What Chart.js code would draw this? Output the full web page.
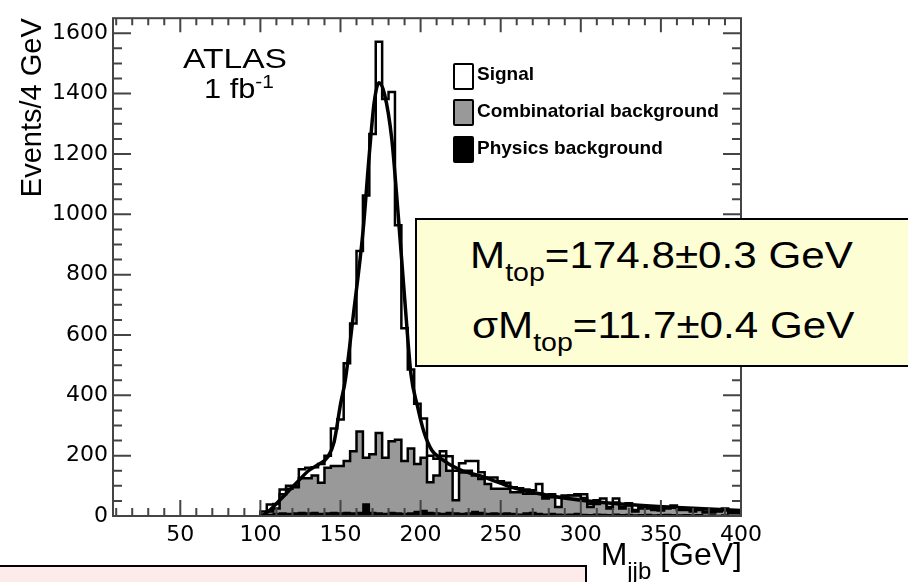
<!DOCTYPE html>
<html>
<head>
<meta charset="utf-8">
<title>M_jjb ATLAS 1 fb-1</title>
<script src="https://cdn.jsdelivr.net/npm/chart.js"></script>
<style>
body { margin: 0; background: #fff; }
#wrap { position: relative; width: 908px; height: 582px; overflow: hidden; background: #fff;
        font-family: "Liberation Sans", Arial, sans-serif; color: #000; }
#c { position: absolute; left: 0; top: 0; }
.lbl { position: absolute; white-space: nowrap; transform-origin: 0 0; }
.lbl span { line-height: 0; position: relative; }
.key { position: absolute; left: 453px; width: 17px; height: 23px; border: 2px solid #000; border-radius: 2px; }
.leg { position: absolute; left: 477px; font-weight: bold; font-size: 19px; line-height: 19px; white-space: nowrap; }
#fitbox { position: absolute; left: 415px; top: 218px; width: 540px; height: 145px; border: 2px solid #000; background: #fefed4; }
#note { position: absolute; left: -2px; top: 565px; width: 585px; height: 30px; border: 2px solid #000; background: #fdebeb; }
</style>
</head>
<body>
<div id="wrap">
  <canvas id="c" width="908" height="582"></canvas>

  <div class="lbl" style="left:183px;top:45px;font-size:28px;line-height:28px;transform:scaleX(1.2)">ATLAS</div>
  <div class="lbl" style="left:204px;top:75px;font-size:28px;line-height:28px;transform:scaleX(1.1)">1 fb<span style="font-size:19px;top:-10px">-1</span></div>

  <div class="key" style="top:63px;background:#fff"></div>
  <div class="key" style="top:99px;background:#999"></div>
  <div class="key" style="top:136px;background:#000"></div>
  <div class="leg" style="top:64px">Signal</div>
  <div class="leg" style="top:101px">Combinatorial background</div>
  <div class="leg" style="top:138px">Physics background</div>

  <div id="fitbox"></div>
  <div class="lbl" style="left:470px;top:237px;font-size:37px;line-height:37px;transform:scaleX(1.14)">M<span style="font-size:25px;top:13px">top</span>=174.8±0.3 GeV</div>
  <div class="lbl" style="left:472px;top:307px;font-size:37px;line-height:37px;transform:scaleX(1.14)">σM<span style="font-size:25px;top:13px">top</span>=11.7±0.4 GeV</div>

  <div class="lbl" style="right:166px;top:538px;font-size:32px;line-height:32px">M<span style="font-size:24px;top:14px">jjb</span> [GeV]</div>

  <div id="note"></div>
</div>

<script>
// histogram: 4 GeV bins from 100 to 400 GeV
var binStart = 100;
var binWidth = 4;

// top of the stack (signal + combinatorial + physics)
var totalStack = [15, 38, 40, 88, 100, 100, 155, 160, 162, 172,
    200, 290, 320, 506, 638, 878, 1062, 1266, 1572, 1382,
    1405, 964, 622, 486, 372, 323, 200, 190, 215, 198,
    150, 175, 182, 182, 145, 128, 128, 115, 110, 95,
    92, 88, 85, 106, 62, 72, 63, 68, 68, 72,
    72, 40, 52, 58, 30, 58, 30, 42, 20, 30,
    30, 25, 22, 30, 35, 25, 25, 20, 25, 15,
    15, 20, 25, 15, 15];

// combinatorial + physics (grey)
var combStack = [5, 15, 25, 72, 90, 95, 125, 125, 134, 110,
    160, 166, 166, 182, 215, 280, 193, 205, 275, 193,
    248, 253, 182, 224, 172, 193, 112, 134, 200, 150,
    52, 144, 150, 134, 123, 106, 90, 90, 90, 79,
    79, 74, 74, 74, 58, 62, 30, 62, 68, 68,
    60, 30, 40, 45, 25, 45, 25, 35, 15, 25,
    25, 20, 18, 25, 28, 20, 20, 15, 20, 12,
    12, 15, 20, 10, 10];

// physics background (black)
var physBkg = [3, 5, 8, 10, 8, 10, 12, 10, 12, 8,
    10, 12, 10, 12, 10, 12, 40, 12, 10, 8,
    12, 10, 8, 10, 15, 18, 12, 10, 8, 12,
    10, 8, 10, 15, 12, 8, 10, 8, 10, 8,
    6, 10, 12, 8, 6, 8, 6, 5, 6, 8,
    5, 4, 6, 5, 4, 6, 4, 5, 3, 4,
    5, 3, 4, 5, 4, 3, 4, 3, 4, 2,
    3, 2, 3, 2, 2];

// fit curve
var fitX = [101, 106, 112, 118, 124, 130, 136, 142, 146, 150, 153, 158, 164, 168, 171, 174,
    177.5, 182, 186, 190, 194, 198, 202, 207, 212, 224, 240, 257, 270, 300, 330, 360, 400];
var fitY = [0, 20, 52, 85, 118, 150, 170, 195, 245, 370, 450, 665, 940, 1200, 1370, 1436,
    1398, 1250, 1000, 725, 470, 365, 280, 218, 193, 155, 128, 95, 78, 52, 38, 28, 18];

var xTickLabels = [50, 100, 150, 200, 250, 300, 350, 400];
var yTickLabels = [0, 200, 400, 600, 800, 1000, 1200, 1400, 1600];

function stepData(vals) {
    var pts = [{x: binStart, y: 0}];
    vals.forEach(function (v, i) {
        pts.push({x: binStart + i * binWidth, y: v});
    });
    var end = binStart + vals.length * binWidth;
    pts.push({x: end, y: vals[vals.length - 1]});
    pts.push({x: end, y: 0});
    return pts;
}

// ROOT style frame with ticks inside on all four sides
var frameTicks = {
    id: 'frameTicks',
    afterDatasetsDraw: function (chart) {
        var ctx = chart.ctx, a = chart.chartArea;
        var x = chart.scales.x, y = chart.scales.y;
        ctx.save();
        ctx.strokeStyle = '#444';
        ctx.lineWidth = 2;
        ctx.beginPath();
        for (var vx = 10; vx < x.max; vx += 10) {
            var px = x.getPixelForValue(vx);
            var big = vx % 50 === 0;
            ctx.moveTo(px, a.bottom); ctx.lineTo(px, a.bottom - (big ? 16 : 8));
            ctx.moveTo(px, a.top); ctx.lineTo(px, a.top + (big ? 14 : 7));
        }
        for (var vy = 50; vy < y.max; vy += 50) {
            var py = y.getPixelForValue(vy);
            var bigy = vy % 200 === 0;
            ctx.moveTo(a.left, py); ctx.lineTo(a.left + (bigy ? 18 : 9), py);
            ctx.moveTo(a.right, py); ctx.lineTo(a.right - (bigy ? 18 : 9), py);
        }
        ctx.stroke();
        ctx.strokeRect(a.left, a.top, a.right - a.left, a.bottom - a.top);
        ctx.restore();
    }
};

var tickFont = {family: 'DejaVu Sans', size: 22};
function plainLabel(v) { return String(v); } // no thousands separator

new Chart(document.getElementById('c').getContext('2d'), {
    type: 'line',
    data: {
        datasets: [
            {
                label: 'fit',
                data: fitX.map(function (v, i) { return {x: v, y: fitY[i]}; }),
                borderColor: '#000',
                borderWidth: 3.5,
                pointRadius: 0,
                cubicInterpolationMode: 'monotone',
                fill: false,
                order: 0
            },
            {
                label: 'Physics background',
                data: stepData(physBkg),
                stepped: true,
                borderColor: '#000',
                borderWidth: 1.5,
                backgroundColor: '#000',
                pointRadius: 0,
                fill: 'origin',
                order: 1
            },
            {
                label: 'Combinatorial background',
                data: stepData(combStack),
                stepped: true,
                borderColor: '#000',
                borderWidth: 2.5,
                backgroundColor: '#999',
                pointRadius: 0,
                fill: 'origin',
                order: 2
            },
            {
                label: 'Signal',
                data: stepData(totalStack),
                stepped: true,
                borderColor: '#000',
                borderWidth: 2.5,
                pointRadius: 0,
                fill: false,
                order: 3
            }
        ]
    },
    options: {
        responsive: false,
        animation: false,
        events: [],
        layout: {padding: {left: 0, right: 167, top: 10, bottom: 0}},
        plugins: {legend: {display: false}, tooltip: {enabled: false}},
        scales: {
            x: {
                type: 'linear',
                min: 8,
                max: 400,
                grid: {display: false, drawTicks: false},
                border: {display: false},
                ticks: {font: tickFont, color: '#000', padding: 6, maxRotation: 0, autoSkip: false, callback: plainLabel},
                afterBuildTicks: function (s) { s.ticks = xTickLabels.map(function (v) { return {value: v}; }); },
                afterFit: function (s) { s.height = 66; }
            },
            y: {
                min: 0,
                max: 1650,
                grid: {display: false, drawTicks: false},
                border: {display: false},
                ticks: {font: tickFont, color: '#000', padding: 5, callback: plainLabel},
                afterBuildTicks: function (s) { s.ticks = yTickLabels.map(function (v) { return {value: v}; }); },
                afterFit: function (s) { s.width = 113; },
                title: {
                    display: true,
                    text: 'Events/4 GeV',
                    align: 'end',
                    color: '#000',
                    font: {family: 'Liberation Sans', size: 29},
                    padding: {top: 16, bottom: 0}
                }
            }
        }
    },
    plugins: [frameTicks]
});
</script>
</body>
</html>
